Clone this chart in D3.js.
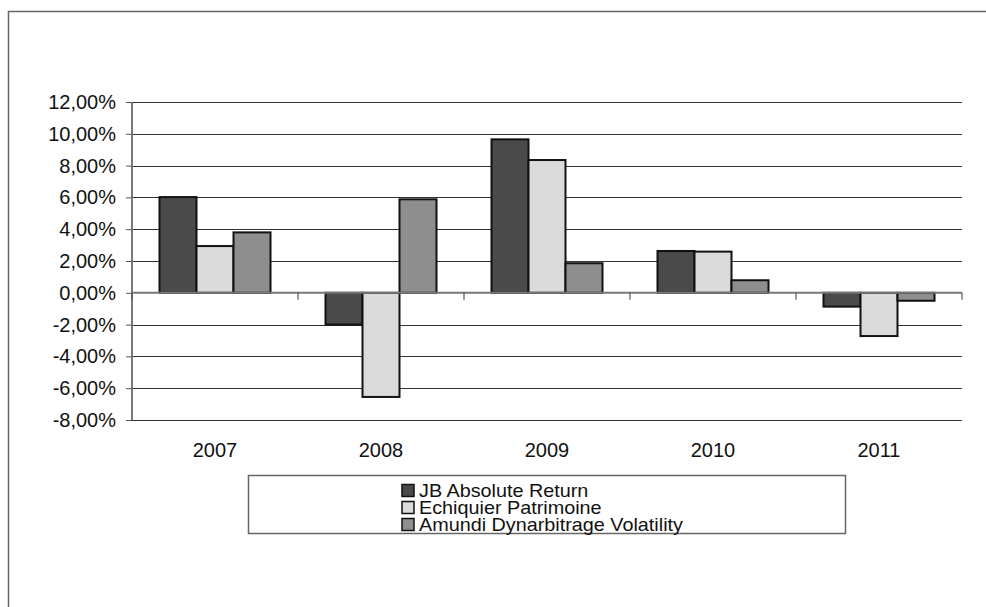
<!DOCTYPE html>
<html>
<head>
<meta charset="utf-8">
<script src="https://cdn.jsdelivr.net/npm/d3@7"></script>
<style>
html,body{margin:0;padding:0;background:#fff;}
svg{display:block;font-family:"Liberation Sans",Arial,sans-serif;}
</style>
</head>
<body>
<svg id="chart" width="986" height="607"></svg>
<script>
const categories = ["2007","2008","2009","2010","2011"];
const seriesNames = ["JB Absolute Return","Echiquier Patrimoine","Amundi Dynarbitrage Volatility"];
const jbAbsoluteReturn = [6.02, -2.0, 9.65, 2.63, -0.87];
const echiquierPatrimoine = [2.94, -6.55, 8.35, 2.59, -2.72];
const amundiDynarbitrage = [3.8, 5.88, 1.86, 0.79, -0.5];
const yTicks = [-8,-6,-4,-2,0,2,4,6,8,10,12];
const colors = ["#4a4a4a","#dadada","#8e8e8e"];

(function(){
const series = [jbAbsoluteReturn, echiquierPatrimoine, amundiDynarbitrage];
const svg = d3.select("#chart");

// outer frame (left and top edges visible)
svg.append("path").attr("d","M8.5,607 L8.5,11.5 L986,11.5")
  .attr("fill","none").attr("stroke","#666").attr("stroke-width",1.5);

const pLeft = 132, pRight = 962, pTop = 102, pBottom = 420;
const x0 = d3.scaleBand().domain(categories).range([pLeft,pRight]).paddingInner(0).paddingOuter(0);
const y = d3.scaleLinear().domain([-8,12]).range([pBottom,pTop]);
const bw = x0.bandwidth();
const gap = bw * 55/166;
const x1 = d3.scaleBand().domain(d3.range(3)).range([gap/2, bw-gap/2]).padding(0);

// gridlines
svg.append("g").selectAll("line").data(yTicks.filter(d=>d!==0)).join("line")
  .attr("x1",pLeft).attr("x2",pRight)
  .attr("y1",d=>Math.round(y(d))+0.5).attr("y2",d=>Math.round(y(d))+0.5)
  .attr("stroke","#333").attr("stroke-width",1.2);

// y axis
const yAxis = d3.axisLeft(y).tickValues(yTicks).tickSize(6).tickPadding(10)
  .tickFormat(d=>d3.format(".2f")(d).replace(".",",").replace("\u2212","-")+"%");
const gy = svg.append("g").attr("transform",`translate(${pLeft},0)`).call(yAxis);
gy.select(".domain").attr("stroke","#777").attr("stroke-width",2).attr("d",`M0,${y(12)}V${y(-8)}`);
gy.selectAll(".tick line").attr("stroke","#555");
gy.selectAll("text").attr("font-size",20).attr("fill","#111");

// bars
const g = svg.append("g");
categories.forEach((c,ci)=>{
  series.forEach((s,si)=>{
    const v = s[ci];
    g.append("rect")
      .attr("x", x0(c)+x1(si))
      .attr("width", x1.bandwidth())
      .attr("y", y(Math.max(0,v)))
      .attr("height", Math.abs(y(v)-y(0)))
      .attr("fill", colors[si])
      .attr("stroke","#111").attr("stroke-width",2);
  });
});

// zero axis with category ticks
const xAxis = d3.axisBottom(x0).tickSize(0).tickFormat("");
const gx = svg.append("g").attr("transform",`translate(0,${y(0)})`).call(xAxis);
gx.select(".domain").attr("stroke","#777").attr("stroke-width",2).attr("d",`M${pLeft},0H${pRight}`);
const boundaries = categories.map(c=>x0(c)+bw).concat([pLeft]);
svg.append("g").selectAll("line").data(boundaries).join("line")
  .attr("x1",d=>d).attr("x2",d=>d).attr("y1",y(0)).attr("y2",y(0)+7)
  .attr("stroke","#555").attr("stroke-width",1.2);

// category labels
svg.append("g").selectAll("text").data(categories).join("text")
  .attr("x",d=>x0(d)+bw/2).attr("y",457)
  .attr("text-anchor","middle").attr("font-size",20).attr("fill","#111")
  .text(d=>d);

// legend
svg.append("rect").attr("x",248.5).attr("y",475.5).attr("width",597).attr("height",58)
  .attr("fill","#fff").attr("stroke","#666").attr("stroke-width",1.5);
const lg = svg.append("g");
seriesNames.forEach((n,i)=>{
  const by = 497 + i*17;
  lg.append("rect").attr("x",402).attr("y",by-12.5).attr("width",12).attr("height",12)
    .attr("fill",colors[i]).attr("stroke","#111").attr("stroke-width",1.5);
  lg.append("text").attr("transform",`translate(419,${by}) scale(1.1,1)`)
    .attr("font-size",18).attr("fill","#111").text(n);
});
})();
</script>
</body>
</html>
